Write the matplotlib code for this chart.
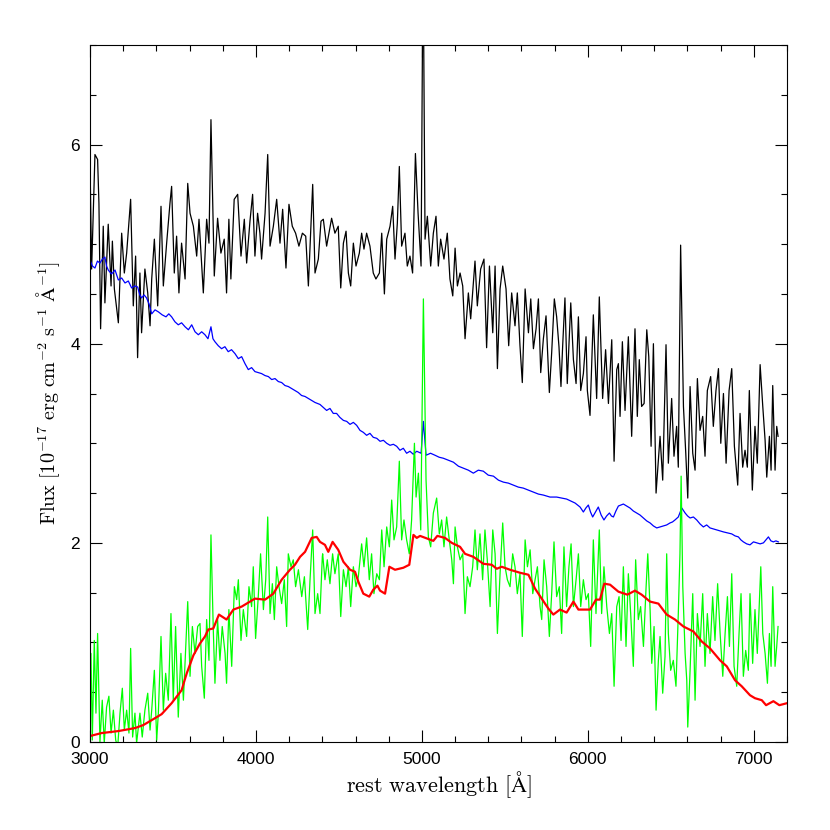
import numpy as np
import matplotlib
matplotlib.use("Agg")
import matplotlib.pyplot as plt
from matplotlib.ticker import MultipleLocator

# Espectro observado (negro): (longitud de onda, flujo)
black = [
    (3000, 5.85), (3010, 4.75), (3030, 5.90), (3046, 5.85), (3054, 5.41), (3064, 4.15),
    (3080, 5.18), (3090, 4.41), (3110, 5.20), (3127, 4.58), (3135, 5.03), (3147, 4.55),
    (3171, 4.21), (3191, 5.11), (3207, 4.71), (3221, 4.91), (3245, 5.45), (3261, 4.38),
    (3275, 4.88), (3287, 3.86), (3301, 4.71), (3311, 4.11), (3331, 4.75), (3348, 4.51),
    (3362, 4.18), (3372, 4.65), (3388, 5.05), (3408, 4.38), (3428, 5.38), (3442, 4.58),
    (3462, 5.01), (3482, 5.41), (3492, 5.58), (3508, 4.71), (3522, 5.08), (3536, 4.51),
    (3552, 5.01), (3573, 4.65), (3589, 5.61), (3603, 5.31), (3623, 5.18), (3643, 4.88),
    (3657, 5.25), (3683, 4.51), (3703, 5.25), (3717, 5.01), (3729, 6.25), (3749, 4.68),
    (3769, 5.26), (3789, 4.91), (3809, 5.05), (3823, 4.51), (3837, 5.25), (3849, 4.65),
    (3869, 5.45), (3890, 5.50), (3910, 4.88), (3930, 5.25), (3944, 4.81), (3964, 5.23),
    (3980, 5.50), (3994, 4.88), (4010, 5.31), (4024, 5.11), (4034, 4.85), (4055, 5.31),
    (4071, 5.90), (4085, 4.98), (4105, 5.18), (4125, 5.45), (4145, 5.01), (4161, 5.35),
    (4181, 4.76), (4199, 5.40), (4219, 5.18), (4239, 5.11), (4259, 4.98), (4280, 5.11),
    (4300, 5.08), (4316, 4.58), (4342, 5.60), (4356, 4.71), (4376, 4.85), (4392, 5.23),
    (4406, 5.25), (4426, 4.98), (4456, 5.26), (4476, 5.11), (4496, 5.18), (4511, 4.56),
    (4527, 5.01), (4543, 5.13), (4557, 4.71), (4571, 4.58), (4587, 5.01), (4603, 4.78),
    (4623, 4.91), (4637, 5.11), (4651, 4.95), (4667, 5.11), (4687, 4.98), (4707, 4.71),
    (4723, 4.65), (4744, 4.71), (4758, 5.11), (4774, 4.50), (4788, 5.05), (4808, 5.18),
    (4824, 5.38), (4838, 4.85), (4852, 5.21), (4864, 5.78), (4878, 4.98), (4898, 5.11),
    (4912, 4.78), (4928, 4.88), (4944, 4.71), (4961, 5.91), (4977, 5.31), (4995, 4.78),
    (5007, 8.00), (5019, 5.05), (5033, 5.28), (5053, 4.78), (5069, 5.11), (5085, 5.28),
    (5099, 4.78), (5113, 5.05), (5133, 4.85), (5153, 5.11), (5169, 4.65), (5186, 4.48),
    (5200, 4.96), (5214, 4.58), (5230, 4.71), (5246, 4.58), (5260, 4.05), (5280, 4.51),
    (5294, 4.25), (5320, 4.83), (5334, 4.38), (5354, 4.75), (5374, 4.85), (5390, 3.96),
    (5407, 4.78), (5427, 4.11), (5441, 4.78), (5455, 3.75), (5471, 4.55), (5487, 4.78),
    (5507, 4.55), (5523, 3.98), (5541, 4.51), (5561, 4.18), (5575, 4.51), (5591, 3.98),
    (5605, 3.61), (5622, 4.55), (5642, 4.11), (5656, 4.45), (5672, 3.95), (5688, 4.15),
    (5702, 4.45), (5716, 3.71), (5732, 4.05), (5748, 4.28), (5768, 3.51), (5782, 3.91),
    (5798, 4.45), (5812, 4.27), (5826, 3.97), (5838, 3.57), (5848, 3.97), (5862, 4.46),
    (5876, 3.60), (5897, 4.41), (5913, 3.84), (5929, 3.60), (5943, 4.27), (5957, 3.53),
    (5973, 3.70), (5989, 4.07), (5997, 3.53), (6013, 3.28), (6033, 4.29), (6053, 3.45),
    (6069, 4.47), (6089, 3.45), (6107, 3.94), (6124, 3.40), (6144, 4.04), (6158, 2.82),
    (6174, 3.74), (6184, 3.80), (6194, 3.27), (6208, 4.02), (6224, 3.33), (6244, 4.07),
    (6264, 3.07), (6284, 4.15), (6298, 3.27), (6310, 3.84), (6324, 3.37), (6339, 3.40),
    (6355, 4.14), (6367, 3.87), (6381, 2.97), (6395, 4.00), (6411, 2.50), (6435, 3.07),
    (6451, 2.63), (6471, 3.99), (6485, 2.80), (6505, 3.45), (6519, 2.87), (6535, 3.17),
    (6545, 2.76), (6559, 4.99), (6576, 3.37), (6590, 2.90), (6602, 2.45), (6616, 3.57),
    (6632, 2.90), (6646, 2.73), (6660, 3.65), (6676, 3.13), (6692, 3.27), (6706, 2.87),
    (6720, 3.53), (6740, 3.67), (6756, 3.17), (6772, 3.53), (6787, 3.75), (6801, 3.00),
    (6817, 3.50), (6833, 2.80), (6851, 3.53), (6867, 3.75), (6883, 2.97), (6903, 2.58),
    (6917, 3.30), (6933, 2.76), (6947, 2.93), (6961, 2.76), (6973, 3.53), (6991, 2.53),
    (7007, 3.17), (7021, 2.80), (7038, 3.79), (7054, 3.37), (7068, 3.03), (7078, 2.66),
    (7094, 3.07), (7104, 2.73), (7114, 3.58), (7128, 2.73), (7138, 3.17), (7146, 3.07),
]

# Componente AGN (azul)
blue = [
    (3000, 4.84), (3015, 4.78), (3030, 4.76), (3045, 4.83), (3060, 4.81), (3075, 4.85),
    (3090, 4.87), (3100, 4.78), (3110, 4.74), (3130, 4.70), (3151, 4.74), (3171, 4.64),
    (3191, 4.66), (3211, 4.61), (3231, 4.63), (3251, 4.56), (3270, 4.58), (3287, 4.57),
    (3300, 4.49), (3311, 4.46), (3326, 4.49), (3341, 4.46), (3356, 4.40), (3372, 4.30),
    (3392, 4.34), (3412, 4.32), (3435, 4.29), (3458, 4.27), (3475, 4.30), (3492, 4.27),
    (3512, 4.22), (3532, 4.19), (3552, 4.21), (3573, 4.17), (3593, 4.14), (3613, 4.19),
    (3633, 4.12), (3653, 4.09), (3673, 4.12), (3693, 4.09), (3711, 4.05), (3729, 4.17),
    (3741, 4.05), (3753, 4.02), (3773, 3.98), (3793, 3.95), (3813, 3.97), (3833, 3.92),
    (3853, 3.94), (3874, 3.90), (3894, 3.85), (3914, 3.87), (3934, 3.80), (3954, 3.74),
    (3974, 3.76), (3994, 3.72), (4014, 3.71), (4034, 3.70), (4055, 3.68), (4075, 3.67),
    (4095, 3.64), (4115, 3.65), (4135, 3.62), (4155, 3.61), (4175, 3.58), (4195, 3.57),
    (4215, 3.55), (4235, 3.53), (4255, 3.51), (4275, 3.48), (4296, 3.47), (4316, 3.45),
    (4336, 3.43), (4356, 3.41), (4371, 3.40), (4386, 3.39), (4406, 3.36), (4426, 3.33),
    (4446, 3.35), (4466, 3.30), (4486, 3.30), (4506, 3.26), (4527, 3.23), (4547, 3.22),
    (4567, 3.19), (4587, 3.21), (4607, 3.18), (4627, 3.13), (4647, 3.11), (4667, 3.08),
    (4687, 3.10), (4707, 3.06), (4728, 3.05), (4748, 3.02), (4768, 3.03), (4788, 3.00),
    (4808, 2.98), (4828, 2.99), (4848, 2.97), (4868, 2.93), (4888, 2.95), (4908, 2.90),
    (4928, 2.92), (4948, 2.89), (4969, 2.92), (4995, 2.90), (5009, 3.22), (5025, 2.88),
    (5052, 2.90), (5079, 2.88), (5104, 2.86), (5129, 2.85), (5160, 2.83), (5190, 2.81),
    (5220, 2.77), (5250, 2.75), (5280, 2.73), (5310, 2.70), (5340, 2.73), (5370, 2.72),
    (5400, 2.68), (5431, 2.67), (5461, 2.63), (5491, 2.61), (5521, 2.60), (5551, 2.58),
    (5581, 2.56), (5611, 2.55), (5641, 2.53), (5672, 2.51), (5702, 2.49), (5732, 2.48),
    (5772, 2.46), (5812, 2.46), (5842, 2.45), (5872, 2.44), (5898, 2.42), (5923, 2.40),
    (5953, 2.36), (5973, 2.31), (5988, 2.35), (6003, 2.38), (6016, 2.31), (6029, 2.26),
    (6046, 2.31), (6063, 2.36), (6080, 2.28), (6097, 2.23), (6113, 2.27), (6130, 2.30),
    (6142, 2.27), (6154, 2.26), (6169, 2.32), (6184, 2.37), (6199, 2.38), (6214, 2.39),
    (6234, 2.37), (6254, 2.35), (6274, 2.32), (6294, 2.30), (6314, 2.28), (6335, 2.25),
    (6355, 2.22), (6375, 2.20), (6395, 2.17), (6415, 2.15), (6435, 2.16), (6455, 2.17),
    (6475, 2.18), (6495, 2.20), (6510, 2.21), (6525, 2.23), (6545, 2.26), (6566, 2.35),
    (6586, 2.30), (6601, 2.27), (6616, 2.25), (6636, 2.26), (6656, 2.23), (6676, 2.19),
    (6696, 2.16), (6716, 2.18), (6736, 2.15), (6757, 2.14), (6777, 2.13), (6797, 2.12),
    (6817, 2.11), (6842, 2.10), (6867, 2.09), (6887, 2.07), (6907, 2.06), (6922, 2.03),
    (6937, 2.01), (6957, 1.99), (6977, 1.98), (6998, 2.01), (7018, 2.00), (7038, 1.99),
    (7058, 2.00), (7073, 2.03), (7088, 2.06), (7103, 2.02), (7118, 2.01), (7133, 2.02),
    (7148, 2.01),
]

# Residuo galaxia anfitriona (verde)
green = [
    (3000, 0.25), (3006, 0.89), (3014, 0.02), (3026, 1.02), (3036, 0.29), (3046, 1.09),
    (3060, 0.00), (3074, 0.42), (3086, -0.01), (3100, 0.35), (3114, 0.46), (3127, 0.09),
    (3141, 0.32), (3155, 0.02), (3167, -0.05), (3181, 0.29), (3195, 0.54), (3207, 0.12),
    (3221, 0.32), (3235, 0.09), (3245, 0.94), (3257, 0.05), (3271, 0.29), (3281, -0.01),
    (3301, 0.29), (3315, 0.05), (3331, 0.32), (3348, 0.49), (3362, 0.12), (3372, 0.32),
    (3388, 0.72), (3402, 0.02), (3412, 0.29), (3428, 1.06), (3442, 0.32), (3456, 0.69),
    (3472, 0.42), (3488, 1.29), (3502, 0.42), (3516, 1.16), (3532, 0.25), (3548, 0.89),
    (3563, 0.42), (3577, 0.96), (3589, 1.41), (3603, 0.66), (3617, 1.16), (3633, 0.89),
    (3649, 1.16), (3663, 1.19), (3673, 0.76), (3689, 0.44), (3703, 1.23), (3717, 0.82),
    (3729, 2.08), (3743, 1.13), (3753, 0.59), (3769, 1.23), (3783, 0.82), (3797, 1.16),
    (3814, 0.89), (3823, 0.59), (3837, 1.33), (3854, 0.76), (3870, 1.56), (3884, 1.43),
    (3894, 1.63), (3910, 1.02), (3924, 1.33), (3944, 1.06), (3958, 1.56), (3974, 1.36),
    (3984, 1.76), (3998, 1.04), (4014, 1.46), (4028, 1.89), (4045, 1.33), (4059, 1.63),
    (4071, 2.26), (4085, 1.29), (4099, 1.59), (4111, 1.23), (4125, 1.76), (4139, 1.56),
    (4155, 1.39), (4171, 1.63), (4185, 1.16), (4195, 1.89), (4211, 1.76), (4225, 1.83),
    (4239, 1.56), (4256, 1.73), (4276, 1.46), (4292, 1.66), (4312, 1.13), (4326, 1.63),
    (4342, 2.13), (4356, 1.29), (4372, 1.49), (4386, 1.29), (4400, 1.86), (4402, 1.89),
    (4416, 1.63), (4430, 1.83), (4446, 1.59), (4462, 1.89), (4476, 1.69), (4496, 1.89),
    (4511, 1.26), (4527, 1.73), (4543, 1.56), (4557, 1.76), (4571, 1.36), (4587, 1.76),
    (4603, 1.56), (4617, 1.66), (4637, 1.99), (4651, 1.76), (4667, 2.05), (4683, 1.63),
    (4697, 1.89), (4711, 1.49), (4728, 1.69), (4744, 1.63), (4758, 2.13), (4772, 1.76),
    (4788, 2.16), (4804, 1.96), (4818, 2.43), (4832, 2.03), (4848, 2.16), (4864, 2.82),
    (4878, 2.03), (4892, 2.23), (4908, 2.03), (4924, 1.89), (4938, 2.23), (4955, 3.00),
    (4965, 2.46), (4979, 2.70), (4993, 2.13), (5009, 4.45), (5025, 2.63), (5039, 2.06),
    (5053, 1.96), (5069, 2.30), (5089, 2.45), (5105, 2.09), (5119, 2.23), (5133, 1.96),
    (5149, 2.26), (5165, 2.03), (5180, 1.83), (5190, 1.59), (5200, 2.16), (5214, 1.96),
    (5230, 1.83), (5246, 1.89), (5260, 1.29), (5274, 1.66), (5290, 1.56), (5306, 1.76),
    (5320, 2.13), (5334, 1.73), (5350, 2.09), (5366, 1.63), (5380, 2.13), (5394, 1.83),
    (5411, 1.36), (5427, 2.13), (5441, 1.89), (5455, 1.09), (5471, 1.69), (5487, 2.20),
    (5501, 1.76), (5515, 1.63), (5531, 1.56), (5547, 1.89), (5561, 1.76), (5575, 1.49),
    (5591, 1.69), (5605, 1.06), (5622, 2.03), (5636, 1.76), (5652, 1.93), (5668, 1.49),
    (5682, 1.63), (5696, 1.76), (5712, 1.36), (5722, 1.23), (5736, 1.83), (5752, 1.56),
    (5768, 1.06), (5782, 1.49), (5796, 2.01), (5812, 1.46), (5828, 1.56), (5842, 1.09),
    (5856, 1.96), (5872, 1.36), (5886, 1.76), (5899, 1.99), (5913, 1.36), (5929, 1.63),
    (5943, 1.89), (5957, 1.36), (5973, 1.63), (5989, 1.43), (6003, 1.49), (6017, 0.96),
    (6033, 2.03), (6049, 1.29), (6069, 2.13), (6083, 1.29), (6097, 1.76), (6114, 1.36),
    (6130, 1.09), (6144, 1.29), (6158, 0.56), (6174, 1.36), (6188, 1.46), (6200, 1.02),
    (6214, 1.76), (6230, 0.96), (6244, 1.69), (6258, 1.29), (6274, 0.76), (6288, 1.83),
    (6304, 1.23), (6318, 1.36), (6335, 0.96), (6351, 1.56), (6361, 1.89), (6375, 1.33),
    (6385, 0.79), (6399, 1.16), (6411, 0.32), (6425, 0.82), (6435, 1.06), (6451, 0.49),
    (6465, 0.86), (6475, 1.89), (6485, 1.09), (6499, 0.72), (6515, 0.82), (6531, 0.56),
    (6545, 1.29), (6555, 1.89), (6562, 2.67), (6572, 1.56), (6586, 0.89), (6596, 0.62),
    (6602, 0.15), (6616, 0.72), (6632, 1.49), (6646, 0.42), (6660, 1.29), (6676, 0.96),
    (6692, 1.49), (6706, 0.76), (6720, 1.29), (6736, 0.89), (6752, 1.46), (6766, 1.02),
    (6782, 1.59), (6797, 1.09), (6813, 0.66), (6827, 1.09), (6841, 1.46), (6853, 0.96),
    (6867, 1.69), (6881, 0.76), (6897, 0.56), (6911, 1.09), (6923, 1.49), (6937, 0.66),
    (6951, 0.92), (6967, 0.72), (6977, 1.49), (6993, 0.79), (7007, 1.33), (7021, 0.89),
    (7042, 1.76), (7054, 1.09), (7068, 0.89), (7082, 0.59), (7094, 1.09), (7104, 0.76),
    (7114, 1.56), (7128, 0.76), (7138, 0.96), (7146, 1.16),
]

# Modelo de galaxia anfitriona (rojo)
red = [
    (3000, 0.06), (3070, 0.09), (3171, 0.11), (3271, 0.14), (3321, 0.17), (3372, 0.22),
    (3432, 0.28), (3492, 0.39), (3552, 0.52), (3583, 0.69), (3623, 0.87), (3663, 0.99),
    (3693, 1.06), (3713, 1.13), (3743, 1.14), (3777, 1.28), (3823, 1.23), (3864, 1.33),
    (3914, 1.36), (3964, 1.41), (3994, 1.44), (4055, 1.43), (4105, 1.49), (4155, 1.63),
    (4205, 1.73), (4235, 1.78), (4266, 1.86), (4296, 1.91), (4336, 2.05), (4366, 2.06),
    (4386, 2.01), (4416, 1.98), (4436, 1.91), (4462, 2.01), (4496, 1.93), (4527, 1.81),
    (4567, 1.73), (4597, 1.71), (4617, 1.61), (4647, 1.49), (4683, 1.46), (4707, 1.53),
    (4732, 1.57), (4748, 1.52), (4778, 1.49), (4804, 1.76), (4838, 1.73), (4888, 1.75),
    (4924, 1.78), (4949, 2.08), (4969, 2.05), (4989, 2.07), (5069, 2.02), (5093, 2.07),
    (5139, 2.05), (5180, 2.00), (5230, 1.96), (5260, 1.89), (5310, 1.86), (5370, 1.79),
    (5421, 1.78), (5451, 1.74), (5481, 1.76), (5531, 1.73), (5591, 1.70), (5642, 1.68),
    (5682, 1.54), (5722, 1.44), (5762, 1.34), (5792, 1.28), (5832, 1.33), (5872, 1.30),
    (5913, 1.41), (5943, 1.33), (6013, 1.33), (6049, 1.43), (6073, 1.43), (6099, 1.59),
    (6134, 1.58), (6184, 1.51), (6238, 1.48), (6284, 1.52), (6324, 1.48), (6375, 1.41),
    (6425, 1.39), (6475, 1.28), (6525, 1.23), (6576, 1.16), (6636, 1.11), (6686, 1.01),
    (6736, 0.94), (6797, 0.82), (6837, 0.76), (6887, 0.62), (6927, 0.56), (6977, 0.47),
    (7007, 0.44), (7048, 0.42), (7074, 0.37), (7118, 0.41), (7154, 0.37), (7200, 0.39),
]

plt.rcParams['mathtext.fontset'] = 'cm'

fig = plt.figure(figsize=(8.3, 8.3), dpi=100)
ax = fig.add_axes([0.1084, 0.106, 0.8398, 0.8398])

# Dibujar las cuatro curvas
for data, color, lw in [(black, 'black', 0.9), (blue, '#0000ff', 0.9),
                        (green, '#00ff00', 0.9), (red, '#ff0000', 1.6)]:
    wave, flux = np.array(data).T
    ax.plot(wave, flux, color=color, lw=lw)

ax.set_xlim(3000, 7200)
ax.set_ylim(0, 7)

# Ticks estilo PGPLOT: hacia dentro en los cuatro lados
ax.xaxis.set_major_locator(MultipleLocator(1000))
ax.xaxis.set_minor_locator(MultipleLocator(200))
ax.yaxis.set_major_locator(MultipleLocator(2))
ax.yaxis.set_minor_locator(MultipleLocator(0.5))
ax.tick_params(which='both', direction='in', top=True, right=True, width=0.8)
ax.tick_params(which='major', length=8.5, pad=7)
ax.tick_params(which='minor', length=4.3)
for lab in ax.get_xticklabels() + ax.get_yticklabels():
    lab.set_fontfamily('Liberation Sans')
    lab.set_fontsize(12.5)
for sp in ax.spines.values():
    sp.set_linewidth(0.8)

ax.set_xlabel(r'$\mathrm{rest\ wavelength\ [\AA]}$', fontsize=16, labelpad=2)
ax.set_ylabel(r'$\mathrm{Flux\ [10^{-17}\ erg\ cm^{-2}\ s^{-1}\ \AA^{-1}]}$', fontsize=14.5, labelpad=6)

plt.savefig('out.png', dpi=100)
plt.close()
